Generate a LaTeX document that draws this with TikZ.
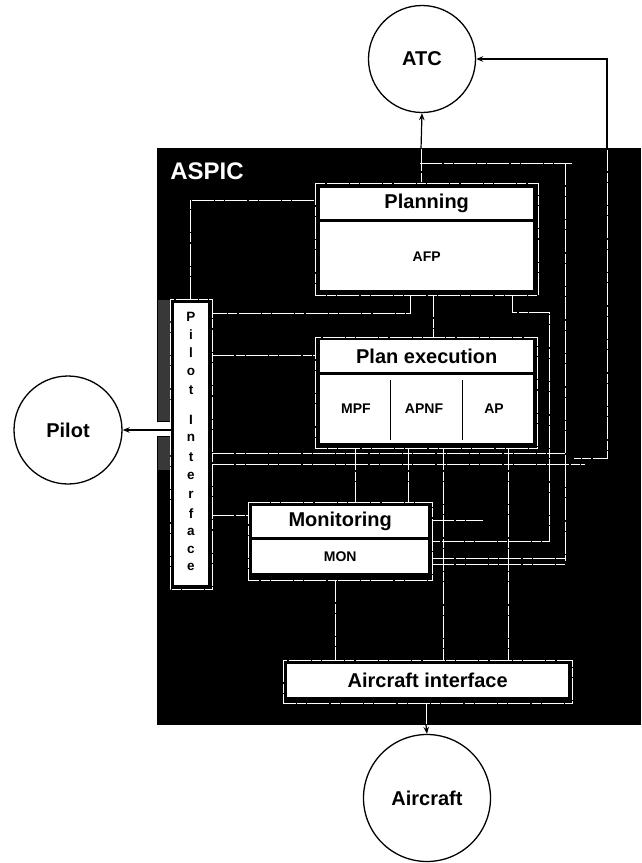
\documentclass[tikz,border=0pt]{standalone}
\usepackage{fontspec}
\setmainfont{Liberation Sans}
\usetikzlibrary{arrows.meta}
\begin{document}
\begin{tikzpicture}[x=1pt,y=-1pt,
  circ/.style={circle, draw, line width=1.3pt, inner sep=0pt, font=\fontsize{20}{24}\selectfont\bfseries},
  wbox/.style={fill=white, inner sep=0pt, anchor=north west},
  hdr/.style={font=\fontsize{20}{24}\selectfont\bfseries},
  sub/.style={font=\fontsize{14}{16}\selectfont\bfseries},
  vlet/.style={font=\fontsize{13.5}{15}\selectfont\bfseries, inner sep=0pt},
  wire/.style={draw=white, line width=0.9pt, dash pattern=on 22pt off 1.5pt on 9pt off 1pt},
  arr/.style={line width=1.2pt, -{Stealth[length=7pt,width=5.5pt]}},
  divider/.style={line width=0.9pt, black}
]
\useasboundingbox (0,0) rectangle (641,863);

% ASPIC black block
\node[fill=black, inner sep=0pt, anchor=north west, minimum width=484pt, minimum height=577pt] (aspic) at (157,148) {};
\fill[black!78] (158,300) rectangle (171,421);
\fill[black!78] (158,437) rectangle (171,470);
\fill[white] (157,422) rectangle (171,436);
\node[text=white, font=\fontsize{24}{28}\selectfont\bfseries, inner sep=0pt] (aspiclbl) at (207,171) {ASPIC};

% external circles
\node[circ, minimum size=107pt] (atc) at (422,59) {ATC};
\node[circ, minimum size=127pt] (aircraft) at (427,798) {Aircraft};
\node[circ, minimum size=108pt] (pilot) at (68,430) {Pilot};

% internal wiring (white)
\draw[wire] (421,149) -- (421,183);
\draw[wire] (420,163) -- (572,163);
\draw[wire] (565,163) -- (565,561);
\draw[wire] (315,183) rectangle (538,295);
\draw[wire] (190,299) -- (190,200) -- (315,200);
\draw[wire] (410,295) -- (410,313) -- (212,313);
\draw[wire] (433,295) -- (433,337);
\draw[wire] (512,295) -- (512,312) -- (549,312) -- (549,541) -- (432,541);
\draw[wire] (315,337) rectangle (537,448);
\draw[wire] (212,355) -- (315,355);
\draw[wire] (212,453) -- (565,453);
\draw[wire] (212,464) -- (585,464);
\draw[wire] (607,149) -- (607,458) -- (574,458);
\draw[wire] (355,448) -- (355,502);
\draw[wire] (408,448) -- (408,502);
\draw[wire] (443,448) -- (443,660);
\draw[wire] (508,448) -- (508,660);
\draw[wire] (248,502) rectangle (432,580);
\draw[wire] (212,515) -- (248,515);
\draw[wire] (432,520) -- (483,520);
\draw[wire] (432,558) -- (565,558);
\draw[wire] (432,564) -- (565,564);
\draw[wire] (335,580) -- (335,660);
\draw[wire] (283,660) rectangle (572,703);
\draw[wire] (426,703) -- (426,724);
\draw[wire] (170,299) rectangle (212,589);

% Planning
\node[wbox, minimum width=213pt, minimum height=31pt, hdr] (planh) at (320,188) {Planning};
\node[wbox, minimum width=213pt, minimum height=68pt, sub] (planb) at (320,222) {AFP};

% Plan execution
\node[wbox, minimum width=213pt, minimum height=32pt, hdr] (exech) at (320,340) {Plan execution};
\node[wbox, minimum width=213pt, minimum height=68pt] (execb) at (320,375) {};
\node[sub, inner sep=0pt] (mpf) at (356,409) {MPF};
\node[sub, inner sep=0pt] (apnf) at (424,409) {APNF};
\node[sub, inner sep=0pt] (ap) at (494,409) {AP};
\draw[divider] (390,380) -- (390,440);
\draw[divider] (462,380) -- (462,440);

% Monitoring
\node[wbox, minimum width=176pt, minimum height=31pt, hdr] (monh) at (252,506) {Monitoring};
\node[wbox, minimum width=176pt, minimum height=33pt, sub] (monb) at (252,540) {MON};

% Aircraft interface
\node[wbox, minimum width=281pt, minimum height=33pt, hdr] (aci) at (287,664) {Aircraft interface};

% Pilot interface bar
\node[wbox, minimum width=34pt, minimum height=282pt] (pibar) at (174,303) {};
\node[vlet] at (191,317) {P};
\node[vlet] at (191,335) {i};
\node[vlet] at (191,353) {l};
\node[vlet] at (191,372) {o};
\node[vlet] at (191,390) {t};
\node[vlet] at (191,420) {I};
\node[vlet] at (191,438) {n};
\node[vlet] at (191,457) {t};
\node[vlet] at (191,476) {e};
\node[vlet] at (191,495) {r};
\node[vlet] at (191,514) {f};
\node[vlet] at (191,532) {a};
\node[vlet] at (191,550) {c};
\node[vlet] at (191,567) {e};

% external connectors
\draw[arr] (421,149) -- (atc.south);
\draw[arr] (607,149.5) |- (atc.east);
\draw[arr] (426,725) -- (aircraft.north);
\draw[arr] (pibar.west |- pilot.east) -- (pilot.east);
\end{tikzpicture}
\end{document}
